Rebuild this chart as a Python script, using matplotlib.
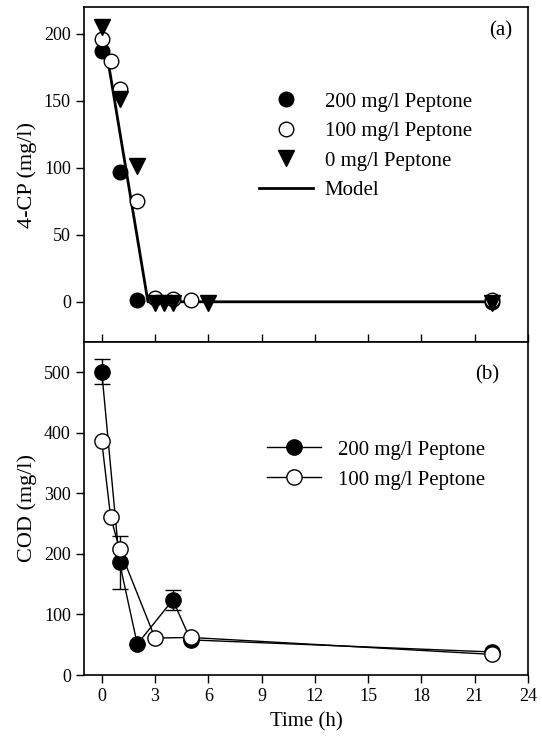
import matplotlib
matplotlib.use("Agg")
import matplotlib.pyplot as plt
from matplotlib.lines import Line2D

plt.rcParams['font.family'] = ['Liberation Serif', 'DejaVu Serif']
plt.rcParams['font.size'] = 13

# ---- Panel (a): 4-CP concentration ----
t_cp_200 = [0, 1, 2, 22]
cp_200 = [187, 97, 1, 0]
t_cp_100 = [0, 0.5, 1, 2, 3, 4, 5, 22]
cp_100 = [196, 180, 159, 75, 3, 2, 1, 1]
t_cp_0 = [0, 1, 2, 3, 3.5, 4, 6, 22]
cp_0 = [205, 151, 101, -1, -1, -1, -1, -1]
t_model = [0, 2.6, 22]
cp_model = [208, 0, 0]

# ---- Panel (b): COD ----
t_cod_200 = [0, 1, 2, 4, 5, 22]
cod_200 = [501, 186, 51, 124, 58, 38]
cod_200_err = [21, 44, 0, 16, 0, 0]
t_cod_100 = [0, 0.5, 1, 3, 5, 22]
cod_100 = [386, 261, 208, 61, 62, 34]

x_ticks = [0, 3, 6, 9, 12, 15, 18, 21, 24]
cp_ticks = [0, 50, 100, 150, 200]
cod_ticks = [0, 100, 200, 300, 400, 500]

W, H = 542, 739
fig = plt.figure(figsize=(W / 100, H / 100), dpi=100)

def frac_box(left, top, right, bottom):
    return [left / W, 1 - bottom / H, (right - left) / W, (bottom - top) / H]

ax1 = fig.add_axes(frac_box(84, 7, 528, 342))
ax2 = fig.add_axes(frac_box(84, 342, 528, 675))

for ax in (ax1, ax2):
    for s in ax.spines.values():
        s.set_linewidth(1.2)
    ax.set_xlim(-1, 24)
    ax.set_xticks(x_ticks)
    ax.tick_params(axis='y', direction='out', length=6, width=1, left=True, right=False)

# Panel (a)
ax1.plot(t_model, cp_model, color='black', lw=2.0, zorder=2)
ax1.plot(t_cp_200, cp_200, 'o', ms=10.5, mfc='black', mec='black', zorder=3)
ax1.plot(t_cp_100, cp_100, 'o', ms=10.5, mfc='white', mec='black', mew=1.0, zorder=4)
ax1.plot(t_cp_0, cp_0, 'v', ms=12, mfc='black', mec='black', zorder=5)
ax1.set_ylim(-30, 220)
ax1.set_yticks(cp_ticks)
ax1.tick_params(axis='x', direction='in', length=6, width=1, labelbottom=False, top=False)
ax1.set_ylabel('4-CP (mg/l)', fontsize=16, labelpad=5)
ax1.text(0.965, 0.93, '(a)', transform=ax1.transAxes, ha='right', va='center', fontsize=15)

h1 = [
    Line2D([], [], ls='none', marker='o', ms=10.5, mfc='black', mec='black'),
    Line2D([], [], ls='none', marker='o', ms=10.5, mfc='white', mec='black'),
    Line2D([], [], ls='none', marker='v', ms=12, mfc='black', mec='black'),
    Line2D([], [], color='black', lw=2.0),
]
l1 = ['200 mg/l Peptone', '100 mg/l Peptone', '0 mg/l Peptone', 'Model']
ax1.legend(h1, l1, loc='upper left', bbox_to_anchor=(259 / W, 1 - 92 / H),
           bbox_transform=fig.transFigure, frameon=False, fontsize=15,
           handlelength=2.6, handletextpad=0.55, labelspacing=0.48, borderpad=0,
           borderaxespad=0)

# Panel (b)
ax2.errorbar(t_cod_200, cod_200, yerr=cod_200_err, fmt='-o', color='black', lw=1.0,
             ms=11, mfc='black', mec='black', capsize=6, elinewidth=1.0, capthick=1.0,
             zorder=3)
ax2.plot(t_cod_100, cod_100, '-o', color='black', lw=1.0, ms=11, mfc='white',
         mec='black', mew=1.0, zorder=4)
ax2.set_ylim(0, 550)
ax2.set_yticks(cod_ticks)
ax2.tick_params(axis='x', direction='out', length=6, width=1, top=False)
ax2.set_ylabel('COD (mg/l)', fontsize=16, labelpad=5)
ax2.set_xlabel('Time (h)', fontsize=15, labelpad=5)
ax2.text(0.935, 0.90, '(b)', transform=ax2.transAxes, ha='right', va='center', fontsize=15)

h2 = [
    Line2D([], [], color='black', lw=1.0, marker='o', ms=11, mfc='black', mec='black'),
    Line2D([], [], color='black', lw=1.0, marker='o', ms=11, mfc='white', mec='black'),
]
l2 = ['200 mg/l Peptone', '100 mg/l Peptone']
ax2.legend(h2, l2, loc='upper left', bbox_to_anchor=(267 / W, 1 - 440 / H),
           bbox_transform=fig.transFigure, frameon=False, fontsize=15,
           handlelength=2.6, handletextpad=0.8, labelspacing=0.5, borderpad=0,
           borderaxespad=0)

fig.savefig('out.png', dpi=100)
